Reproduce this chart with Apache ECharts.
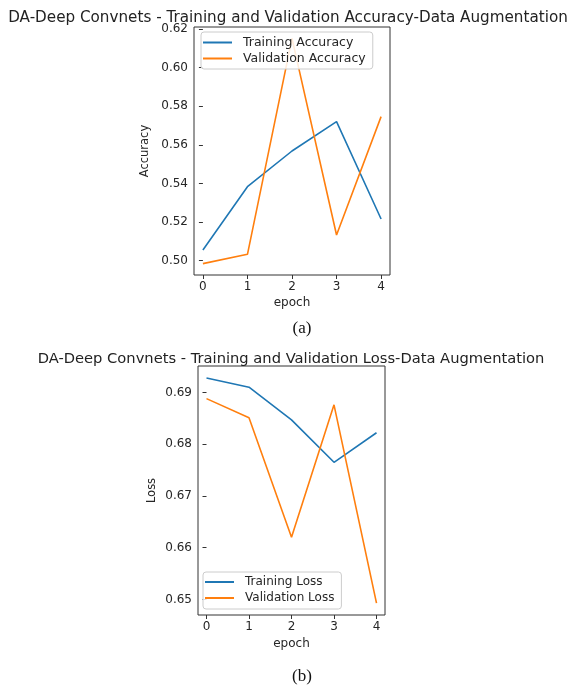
<!DOCTYPE html>
<html><head><meta charset="utf-8">
<script src="https://cdn.jsdelivr.net/npm/echarts@6/dist/echarts.min.js"></script>
<style>html,body{margin:0;padding:0;background:#fff}#c{width:575px;height:688px}</style>
</head><body><div id="c"></div>
<script>
const epochs = [0, 1, 2, 3, 4];
const trainAcc = [0.5055, 0.5383, 0.5568, 0.5720, 0.5216];
const valAcc = [0.4985, 0.5033, 0.6151, 0.5133, 0.5746];
const trainLoss = [0.6928, 0.6910, 0.6847, 0.6765, 0.6822];
const valLoss = [0.6888, 0.6851, 0.6620, 0.6876, 0.6493];
const accTicks = [0.50, 0.52, 0.54, 0.56, 0.58, 0.60, 0.62];
const lossTicks = [0.65, 0.66, 0.67, 0.68, 0.69];

const pairs = (ys) => epochs.map((e, i) => [e, ys[i]]);
const FONT = 'DejaVu Sans';
const txt = '#262626';

function xAxis(gi, gap) {
  return {
    type: 'value', gridIndex: gi, min: -0.2, max: 4.2,
    name: 'epoch', nameLocation: 'middle', nameGap: gap,
    nameTextStyle: {fontFamily: FONT, fontSize: 12, color: txt},
    axisLine: {show: false},
    axisTick: {show: true, length: 4, customValues: epochs, lineStyle: {color: '#333', width: 1}},
    axisLabel: {customValues: epochs, fontFamily: FONT, fontSize: 12, color: txt, margin: 6},
    splitLine: {show: false}
  };
}
function yAxis(gi, min, max, ticks, name, gap) {
  return {
    type: 'value', gridIndex: gi, min: min, max: max,
    name: name, nameLocation: 'middle', nameGap: gap, nameRotate: 90,
    nameTextStyle: {fontFamily: FONT, fontSize: 11.5, color: txt},
    axisLine: {show: false},
    axisTick: {show: true, length: 4, customValues: ticks, lineStyle: {color: '#333', width: 1}},
    axisLabel: {customValues: ticks, fontFamily: FONT, fontSize: 12, color: txt, margin: 6,
      formatter: v => v.toFixed(2)},
    splitLine: {show: false}
  };
}
const legendCommon = {
  orient: 'vertical', icon: 'rect', itemWidth: 29, itemHeight: 2, itemGap: 3,
  backgroundColor: 'rgba(255,255,255,0.85)', borderColor: '#ccc', borderWidth: 1, borderRadius: 3,
  padding: [4, 7, 4, 2]
};
const line = (name, data, color, xi) => ({
  name: name, type: 'line', data: data, xAxisIndex: xi, yAxisIndex: xi,
  showSymbol: false, symbol: 'none', lineStyle: {width: 1.6, color: color}, itemStyle: {color: color},
  animation: false
});

const chart = echarts.init(document.getElementById('c'));
chart.setOption({
  animation: false,
  title: [
    {text: 'DA-Deep Convnets - Training and Validation Accuracy-Data Augmentation', left: 283, top: 6, textAlign: 'center',
      textStyle: {fontFamily: FONT, fontSize: 15.2, fontWeight: 'normal', color: '#222'}},
    {text: 'DA-Deep Convnets - Training and Validation Loss-Data Augmentation', left: 286, top: 347, textAlign: 'center',
      textStyle: {fontFamily: FONT, fontSize: 14.7, fontWeight: 'normal', color: '#222'}},
    {text: '(a)', left: 297, top: 315, textAlign: 'center',
      textStyle: {fontFamily: 'Liberation Serif', fontSize: 17, fontWeight: 'normal', color: '#111'}},
    {text: '(b)', left: 297, top: 663, textAlign: 'center',
      textStyle: {fontFamily: 'Liberation Serif', fontSize: 17, fontWeight: 'normal', color: '#111'}}
  ],
  grid: [
    {left: 194, top: 27, width: 196, height: 248, show: true, borderColor: '#333', borderWidth: 1, backgroundColor: 'transparent'},
    {left: 198, top: 366, width: 187, height: 249, show: true, borderColor: '#333', borderWidth: 1, backgroundColor: 'transparent'}
  ],
  xAxis: [xAxis(0, 22), xAxis(1, 23)],
  yAxis: [yAxis(0, 0.4926, 0.621, accTicks, 'Accuracy', 43), yAxis(1, 0.6470, 0.6951, lossTicks, 'Loss', 40)],
  legend: [
    Object.assign({}, legendCommon, {data: ['Training Accuracy', 'Validation Accuracy'], left: 201, top: 32,
      textStyle: {fontFamily: FONT, fontSize: 12.5, color: txt, padding: [0, 0, 0, 6]}}),
    Object.assign({}, legendCommon, {data: ['Training Loss', 'Validation Loss'], left: 203, top: 572, itemGap: 4,
      padding: [4, 7, 5, 2],
      textStyle: {fontFamily: FONT, fontSize: 12, color: txt, padding: [0, 0, 0, 6]}})
  ],
  series: [
    line('Training Accuracy', pairs(trainAcc), '#1f77b4', 0),
    line('Validation Accuracy', pairs(valAcc), '#ff7f0e', 0),
    line('Training Loss', pairs(trainLoss), '#1f77b4', 1),
    line('Validation Loss', pairs(valLoss), '#ff7f0e', 1)
  ]
});
</script></body></html>
